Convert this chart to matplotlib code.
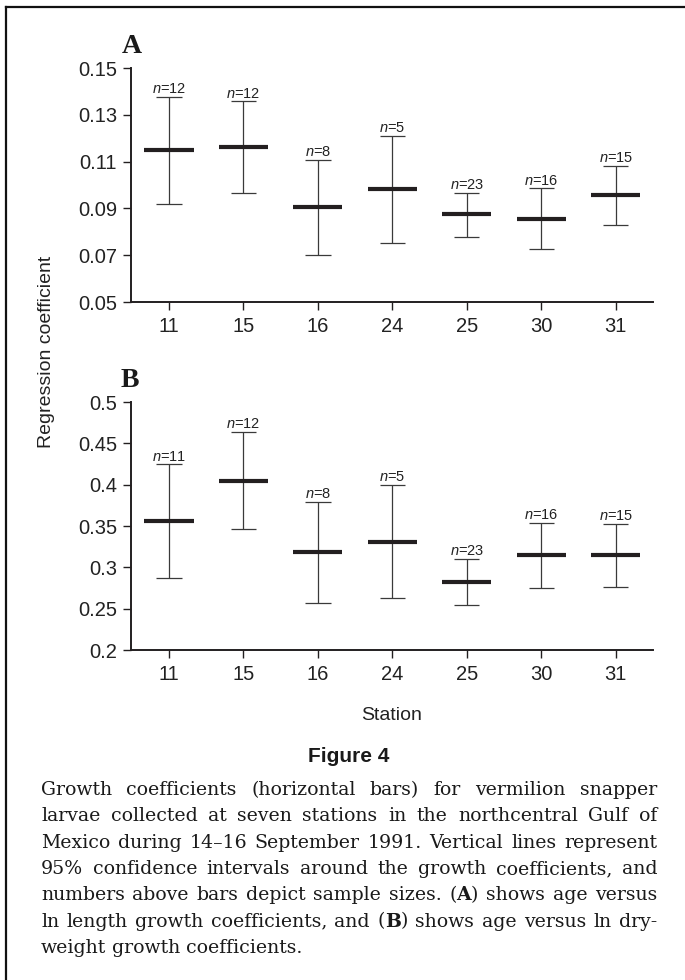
import matplotlib
matplotlib.use('Agg')
import matplotlib.pyplot as plt
from matplotlib.lines import Line2D

plt.rcParams['font.family'] = ['Liberation Sans', 'DejaVu Sans']
plt.rcParams['mathtext.fontset'] = 'custom'
plt.rcParams['mathtext.it'] = 'Liberation Sans:italic'
plt.rcParams['mathtext.rm'] = 'Liberation Sans'

stations = ['11', '15', '16', '24', '25', '30', '31']

# A: age vs ln length
len_coef = [0.1150, 0.1162, 0.0907, 0.0983, 0.0874, 0.0855, 0.0956]
len_upper = [0.1378, 0.1357, 0.1107, 0.1211, 0.0966, 0.0986, 0.1083]
len_lower = [0.0920, 0.0966, 0.0702, 0.0754, 0.0778, 0.0725, 0.0828]
len_n = [12, 12, 8, 5, 23, 16, 15]
len_yticks = [0.05, 0.07, 0.09, 0.11, 0.13, 0.15]
len_ylabels = ['0.05', '0.07', '0.09', '0.11', '0.13', '0.15']

# B: age vs ln dry weight
wt_coef = [0.3558, 0.4050, 0.3184, 0.3309, 0.2826, 0.3148, 0.3148]
wt_upper = [0.4247, 0.4638, 0.3792, 0.3997, 0.3103, 0.3534, 0.3530]
wt_lower = [0.2866, 0.3462, 0.2572, 0.2628, 0.2544, 0.2753, 0.2761]
wt_n = [11, 12, 8, 5, 23, 16, 15]
wt_yticks = [0.2, 0.25, 0.3, 0.35, 0.4, 0.45, 0.5]
wt_ylabels = ['0.2', '0.25', '0.3', '0.35', '0.4', '0.45', '0.5']

caption = [
    'Growth coefficients (horizontal bars) for vermilion snapper',
    'larvae collected at seven stations in the northcentral Gulf of',
    'Mexico during 14\u201316 September 1991. Vertical lines represent',
    '95% confidence intervals around the growth coefficients, and',
    'numbers above bars depict sample sizes. (*A*) shows age versus',
    'ln length growth coefficients, and (*B*) shows age versus ln dry-',
    'weight growth coefficients.',
]

W, H = 685, 980
ink = '#231f20'
serif = ['DejaVu Serif']


def panel(ax, coef, upper, lower, n, yticks, ylabels):
    x = list(range(len(stations)))
    ax.vlines(x, lower, upper, color='#3a3a3a', lw=0.9, clip_on=False)
    ax.hlines(upper, [i - 0.17 for i in x], [i + 0.17 for i in x], color='#3a3a3a', lw=0.9, clip_on=False)
    ax.hlines(lower, [i - 0.17 for i in x], [i + 0.17 for i in x], color='#3a3a3a', lw=0.9)
    ax.hlines(coef, [i - 0.33 for i in x], [i + 0.33 for i in x], color=ink, lw=3.0)
    for i in x:
        ax.annotate(r'$n$=%d' % n[i], (i, upper[i]), xytext=(0, 0.5), textcoords='offset points',
                    ha='center', va='bottom', fontsize=10.5, color='#222222',
                    annotation_clip=False)
    ax.set_xlim(-0.51, 6.5)
    ax.set_ylim(yticks[0], yticks[-1])
    ax.set_xticks(x)
    ax.set_xticklabels(stations)
    ax.set_yticks(yticks)
    ax.set_yticklabels(ylabels)
    for s in ['top', 'right']:
        ax.spines[s].set_visible(False)
    for s in ['left', 'bottom']:
        ax.spines[s].set_linewidth(1.4)
        ax.spines[s].set_color(ink)
    ax.tick_params(axis='both', direction='out', length=6, width=1.0, color=ink,
                   labelsize=14.5, labelcolor='#222222')
    ax.tick_params(axis='x', pad=5)
    ax.tick_params(axis='y', pad=4)


def justify(fig, lines, left, right, base, step, size):
    r = fig.canvas.get_renderer()
    for i, line in enumerate(lines):
        y = 1 - (base + i * step) / H
        words = []
        widths = []
        for w in line.split(' '):
            parts = w.split('*')
            segs = []
            ww = 0
            for k, p in enumerate(parts):
                if not p:
                    continue
                t = fig.text(0, y, p, fontsize=size, family=serif, color='#1a1a1a',
                             weight='bold' if k % 2 else 'normal', va='baseline', ha='left')
                wd = t.get_window_extent(r).width
                segs.append((t, wd))
                ww += wd
            words.append(segs)
            widths.append(ww)
        if i == len(lines) - 1:
            gap = size * 0.3 * 100 / 72
        else:
            gap = (right - left - sum(widths)) / (len(words) - 1)
        x = left
        for segs in words:
            for t, wd in segs:
                t.set_x(x / W)
                x += wd
            x += gap


fig = plt.figure(figsize=(W / 100, H / 100), dpi=100)

axA = fig.add_axes([131 / W, 1 - 302 / H, (653 - 131) / W, (302 - 68) / H])
panel(axA, len_coef, len_upper, len_lower, len_n, len_yticks, len_ylabels)

axB = fig.add_axes([131 / W, 1 - 650 / H, (653 - 131) / W, (650 - 402) / H])
panel(axB, wt_coef, wt_upper, wt_lower, wt_n, wt_yticks, wt_ylabels)

fig.text(122 / W, 1 - 53 / H, 'A', fontsize=20, weight='bold', family=['Liberation Serif'],
         ha='left', va='baseline', color='#1a1a1a')
fig.text(121 / W, 1 - 387 / H, 'B', fontsize=20, weight='bold', family=['Liberation Serif'],
         ha='left', va='baseline', color='#1a1a1a')

fig.text(47 / W, 1 - 352 / H, 'Regression coefficient', rotation=90, fontsize=14,
         ha='center', va='center', color='#222222')
fig.text(392 / W, 1 - 715 / H, 'Station', fontsize=14, ha='center', va='center', color='#222222')
fig.text(349 / W, 1 - 756 / H, 'Figure 4', fontsize=15, weight='bold', ha='center', va='center',
         color='#1a1a1a')

justify(fig, caption, 41, 657, 795, 26.3, 13.6)

# frame lines along top and left edge
fig.add_artist(Line2D([6 / W, 1], [1 - 7 / H, 1 - 7 / H], transform=fig.transFigure,
                      color='#111111', lw=1.6))
fig.add_artist(Line2D([6 / W, 6 / W], [1 - 7 / H, 0], transform=fig.transFigure,
                      color='#111111', lw=1.6))

fig.savefig('out.png', dpi=100)
